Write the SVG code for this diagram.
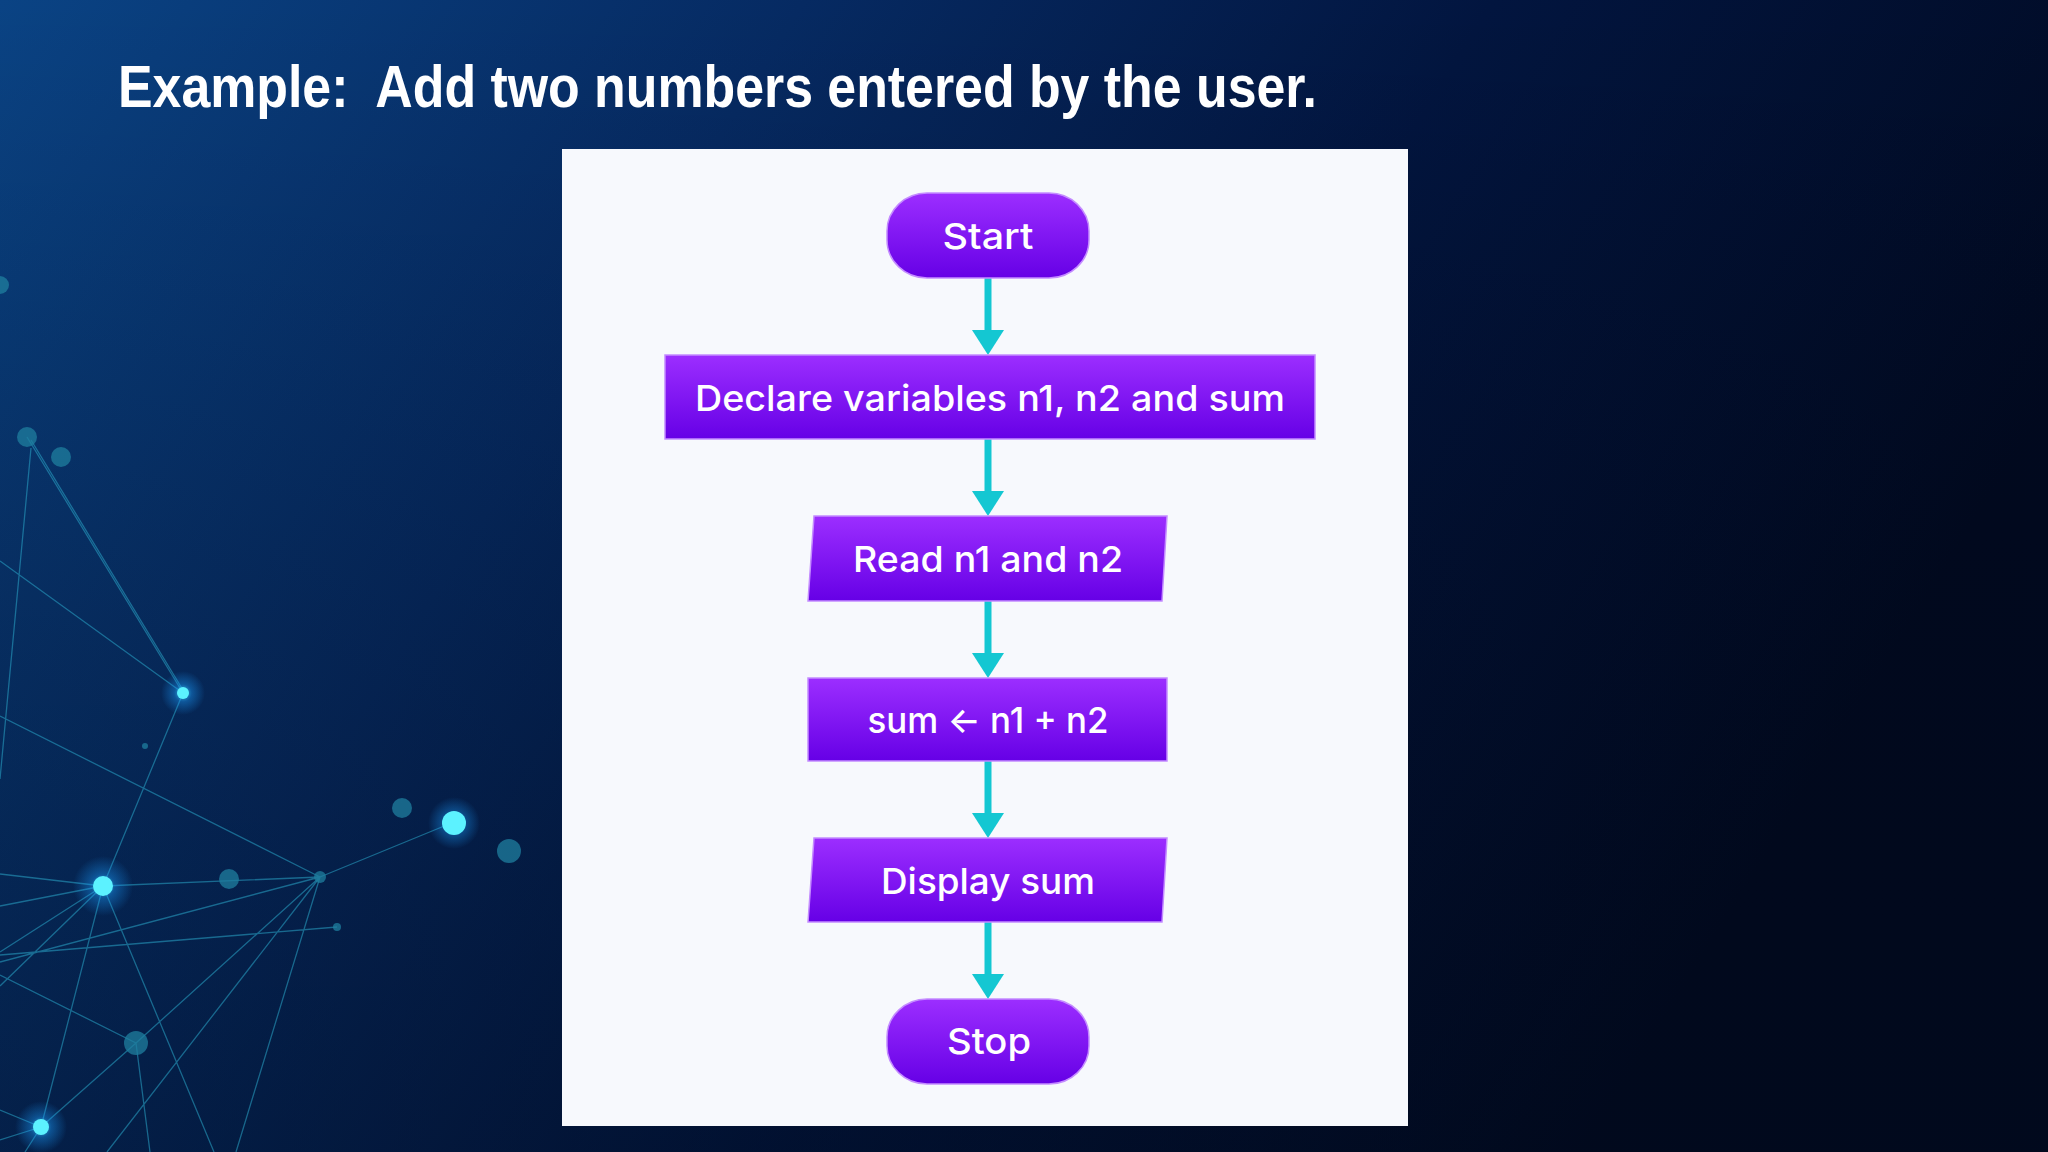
<svg xmlns="http://www.w3.org/2000/svg" width="2048" height="1152" viewBox="0 0 2048 1152">
  <defs>
    <linearGradient id="bg" x1="0" y1="0" x2="1" y2="0.35">
      <stop offset="0" stop-color="#0a4384"/>
      <stop offset="0.35" stop-color="#062a62"/>
      <stop offset="0.65" stop-color="#02153f"/>
      <stop offset="1" stop-color="#010a22"/>
    </linearGradient>
    <linearGradient id="bgShade" x1="0" y1="0" x2="0" y2="1">
      <stop offset="0" stop-color="#000000" stop-opacity="0"/>
      <stop offset="1" stop-color="#000814" stop-opacity="0.35"/>
    </linearGradient>
    <radialGradient id="glow">
      <stop offset="0" stop-color="#4fe8ff" stop-opacity="0.9"/>
      <stop offset="0.4" stop-color="#1a9dff" stop-opacity="0.4"/>
      <stop offset="1" stop-color="#1a9dff" stop-opacity="0"/>
    </radialGradient>
    <linearGradient id="purple" x1="0" y1="0" x2="0" y2="1">
      <stop offset="0" stop-color="#9c2eff"/>
      <stop offset="1" stop-color="#6600e6"/>
    </linearGradient>
    <marker id="arrow" viewBox="0 0 25 32" markerWidth="25" markerHeight="32" refX="2" refY="16" orient="auto" markerUnits="userSpaceOnUse">
      <path d="M0,0 L25,16 L0,32 Z" fill="#14c7d2"/>
    </marker>
    <style>
      .node { fill: url(#purple); stroke: #c48cff; stroke-width: 1.5; }
      .label { font-family: Inter, "Noto Sans", "DejaVu Sans", sans-serif; font-weight: 500; font-size: 36px; fill: #ffffff; text-anchor: middle; }
      .edge { stroke: #14c7d2; stroke-width: 7; fill: none; marker-end: url(#arrow); }
      .net { stroke: #2aa6c9; stroke-width: 1.3; stroke-opacity: 0.55; fill: none; }
      .dot { fill: #1f7f9f; fill-opacity: 0.75; }
      .bright { fill: #5cf2ff; }
    </style>
  </defs>

  <g id="background">
    <rect width="2048" height="1152" fill="url(#bg)"/>
    <rect width="2048" height="1152" fill="url(#bgShade)"/>
    <g id="network">
      <path class="net" d="M27,437 L183,693 M31,440 L183,690 M31,448 L0,779 M0,561 L183,693 M183,693 L103,886 M0,716 L320,877 M103,886 L320,877 M454,822 L320,877 M0,874 L103,886 M0,906 L103,886 M0,952 L103,886 M0,986 L103,886 M0,955 L337,927 M0,962 L320,877 M103,886 L41,1127 M103,886 L214,1152 M320,877 L136,1043 M320,877 L107,1152 M320,877 L236,1152 M0,975 L136,1043 M136,1043 L41,1127 M136,1043 L150,1152 M41,1127 L0,1110 M41,1127 L0,1140 M41,1127 L25,1152"/>
      <circle class="dot" cx="27" cy="437" r="10"/>
      <circle class="dot" cx="0" cy="285" r="9"/>
      <circle class="dot" cx="61" cy="457" r="10" fill-opacity="0.25"/>
      <circle class="dot" cx="145" cy="746" r="3"/>
      <circle class="dot" cx="402" cy="808" r="10"/>
      <circle class="dot" cx="229" cy="879" r="10"/>
      <circle class="dot" cx="320" cy="877" r="6"/>
      <circle class="dot" cx="337" cy="927" r="4"/>
      <circle class="dot" cx="136" cy="1043" r="12"/>
      <circle class="dot" cx="509" cy="851" r="12" fill-opacity="0.2"/>
      <circle cx="183" cy="693" r="22" fill="url(#glow)"/>
      <circle class="bright" cx="183" cy="693" r="6"/>
      <circle cx="454" cy="823" r="26" fill="url(#glow)"/>
      <circle class="bright" cx="454" cy="823" r="12"/>
      <circle cx="103" cy="886" r="30" fill="url(#glow)"/>
      <circle class="bright" cx="103" cy="886" r="10"/>
      <circle cx="41" cy="1127" r="26" fill="url(#glow)"/>
      <circle class="bright" cx="41" cy="1127" r="8"/>
    </g>
  </g>

  <text id="title" x="118" y="107" font-family="Liberation Sans, Arial, sans-serif" font-weight="700" font-size="59" fill="#ffffff" textLength="1199" lengthAdjust="spacingAndGlyphs" style="white-space:pre">Example:  Add two numbers entered by the user.</text>

  <rect id="panel" x="562" y="149" width="846" height="977" fill="#f7f9fd"/>

  <g id="connectors">
    <line class="edge" x1="988" y1="278" x2="988" y2="332"/>
    <line class="edge" x1="988" y1="439" x2="988" y2="493"/>
    <line class="edge" x1="988" y1="601" x2="988" y2="655"/>
    <line class="edge" x1="988" y1="761" x2="988" y2="815"/>
    <line class="edge" x1="988" y1="922" x2="988" y2="976"/>
  </g>

  <g id="start">
    <rect class="node" x="887" y="193" width="202" height="85" rx="40" ry="38"/>
    <text class="label" x="988" y="249" textLength="91" lengthAdjust="spacingAndGlyphs">Start</text>
  </g>
  <g id="declare">
    <rect class="node" x="665" y="355" width="650" height="84"/>
    <text class="label" x="990" y="411" textLength="590" lengthAdjust="spacingAndGlyphs">Declare variables n1, n2 and sum</text>
  </g>
  <g id="read">
    <polygon class="node" points="814,516 1167,516 1162,601 808,601"/>
    <text class="label" x="988" y="572" textLength="270" lengthAdjust="spacingAndGlyphs">Read n1 and n2</text>
  </g>
  <g id="compute">
    <rect class="node" x="808" y="678" width="359" height="83"/>
    <text class="label" x="988" y="733" textLength="241" lengthAdjust="spacingAndGlyphs">sum ← n1 + n2</text>
  </g>
  <g id="display">
    <polygon class="node" points="814,838 1167,838 1162,922 808,922"/>
    <text class="label" x="988" y="894" textLength="214" lengthAdjust="spacingAndGlyphs">Display sum</text>
  </g>
  <g id="stop">
    <rect class="node" x="887" y="999" width="202" height="85" rx="40" ry="38"/>
    <text class="label" x="989" y="1054" textLength="84" lengthAdjust="spacingAndGlyphs">Stop</text>
  </g>
</svg>
